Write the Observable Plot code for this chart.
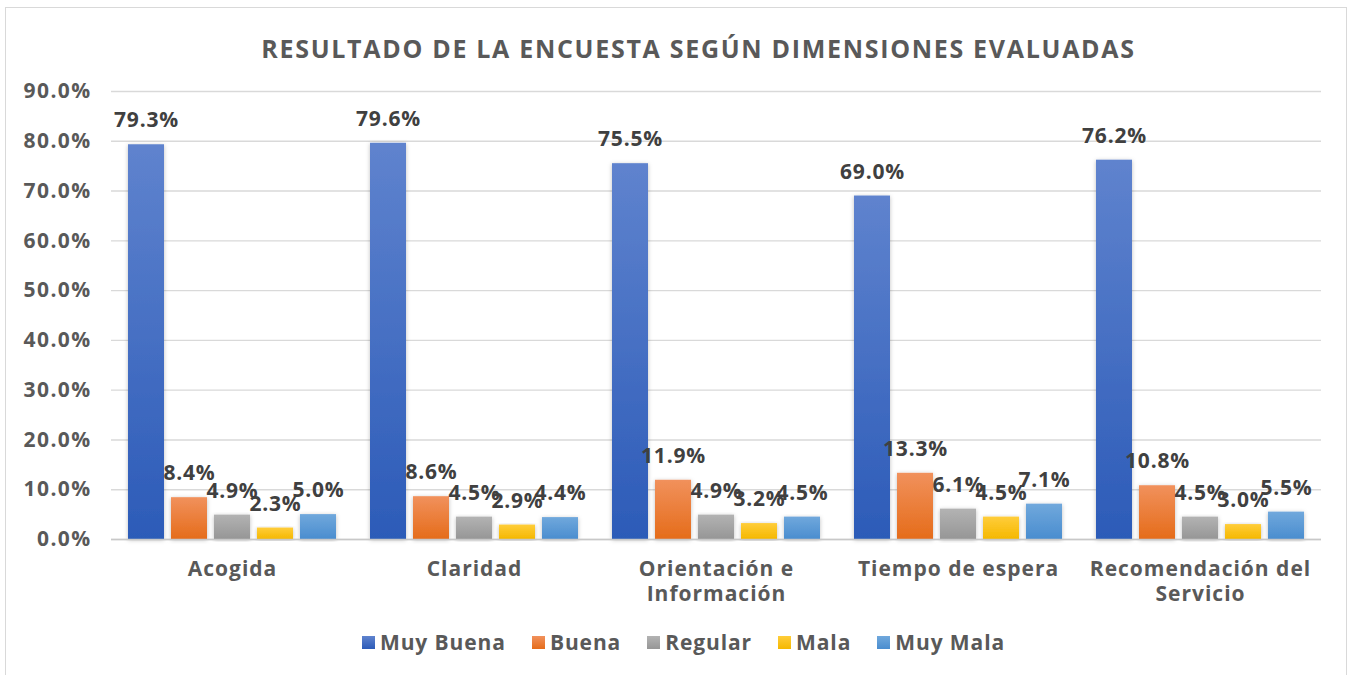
<!DOCTYPE html>
<html>
<head>
<meta charset="utf-8">
<script src="https://cdn.jsdelivr.net/npm/d3@7"></script>
<script src="https://cdn.jsdelivr.net/npm/@observablehq/plot@0.6"></script>
<style>
  body { margin: 0; background: #fff; }
  #page { position: relative; width: 1351px; height: 675px; overflow: hidden; font-family: "Open Sans", sans-serif; }
  #frame { position: absolute; left: 5px; top: 7px; width: 1342px; height: 700px; border: 1px solid #d9d9d9; box-sizing: border-box; }
  #title { position: absolute; left: 23px; top: 33px; width: 1351px; text-align: center; font-size: 25px; line-height: 30px; font-weight: 700; color: #595959; letter-spacing: 1.7px; }
  #chart { position: absolute; left: 0; top: 80px; }
  #legend { position: absolute; left: 0; top: 630px; width: 1351px; height: 24px; display: flex; justify-content: center; align-items: center; gap: 26px; padding-left: 16px; box-sizing: border-box; }
  .item { display: flex; align-items: center; gap: 5px; font-size: 21px; font-weight: 700; color: #595959; letter-spacing: 0.9px; }
  .sw { width: 13px; height: 13px; display: inline-block; }
  #chart g[aria-label="y-axis tick label"] text { letter-spacing: 1.4px; }
  #chart g[aria-label="fx-axis tick label"] text { letter-spacing: 1px; }
  #chart g[aria-label="text"] text { letter-spacing: 0.8px; }
</style>
</head>
<body>
<div id="page">
  <div id="frame"></div>
  <div id="title"></div>
  <div id="chart"></div>
  <div id="legend"></div>
</div>
<script>
const titleText = "RESULTADO DE LA ENCUESTA SEGÚN DIMENSIONES EVALUADAS";
const categories = ["Acogida", "Claridad", "Orientación e\nInformación", "Tiempo de espera", "Recomendación del\nServicio"];
const series = ["Muy Buena", "Buena", "Regular", "Mala", "Muy Mala"];
const muyBuena = [79.3, 79.6, 75.5, 69.0, 76.2];
const buena    = [8.4, 8.6, 11.9, 13.3, 10.8];
const regular  = [4.9, 4.5, 4.9, 6.1, 4.5];
const mala     = [2.3, 2.9, 3.2, 4.5, 3.0];
const muyMala  = [5.0, 4.4, 4.5, 7.1, 5.5];
const yTicks = [0, 10, 20, 30, 40, 50, 60, 70, 80, 90];

const seriesValues = [muyBuena, buena, regular, mala, muyMala];
const gradTop    = ["#5f83ce", "#f1915c", "#b3b3b3", "#ffcd3a", "#70a8dc"];
const gradBottom = ["#2c5bb8", "#e56c1a", "#969696", "#f5b800", "#4a8dcf"];

const data = [];
categories.forEach((c, i) => {
  series.forEach((s, j) => {
    data.push({cat: c, series: s, value: seriesValues[j][i]});
  });
});

document.getElementById("title").textContent = titleText;

const chart = Plot.plot({
  width: 1351,
  height: 535,
  marginLeft: 110,
  marginRight: 29,
  marginTop: 11,
  marginBottom: 76,
  style: {fontFamily: "'Open Sans', sans-serif", fontWeight: 700, background: "transparent", overflow: "visible"},
  fx: {domain: categories, padding: 0, label: null},
  x: {domain: series, paddingInner: 0.163, paddingOuter: 0.395, axis: null},
  y: {domain: [0, 90], label: null},
  color: {domain: series, range: series.map((s, j) => `url(#grad${j})`)},
  marks: [
    Plot.gridY(yTicks, {stroke: "#d9d9d9", strokeOpacity: 1, strokeWidth: 1.4}),
    Plot.barY(data, {fx: "cat", x: "series", y: "value", fill: "series"}),
    Plot.ruleY([0], {stroke: "#c8c8c8", strokeWidth: 1.6}),
    Plot.axisY({ticks: yTicks, tickFormat: d => d.toFixed(1) + "%", tickSize: 0, tickPadding: 20, fontSize: 21, color: "#595959", label: null}),
    Plot.axisFx({anchor: "bottom", tickSize: 0, tickPadding: 19, fontSize: 21, color: "#595959", label: null, lineHeight: 1.19}),
    Plot.text(data, {fx: "cat", x: "series", y: "value", text: d => d.value.toFixed(1) + "%", dy: -24, fontSize: 21, fill: "#404040", fontWeight: 700})
  ]
});

// gradients and shadow
const ns = "http://www.w3.org/2000/svg";
const defs = document.createElementNS(ns, "defs");
series.forEach((s, j) => {
  const g = document.createElementNS(ns, "linearGradient");
  g.setAttribute("id", `grad${j}`);
  g.setAttribute("x1", "0"); g.setAttribute("y1", "0");
  g.setAttribute("x2", "0"); g.setAttribute("y2", "1");
  const s1 = document.createElementNS(ns, "stop");
  s1.setAttribute("offset", "0"); s1.setAttribute("stop-color", gradTop[j]);
  const s2 = document.createElementNS(ns, "stop");
  s2.setAttribute("offset", "1"); s2.setAttribute("stop-color", gradBottom[j]);
  g.appendChild(s1); g.appendChild(s2);
  defs.appendChild(g);
});
const f = document.createElementNS(ns, "filter");
f.setAttribute("id", "shadow");
f.setAttribute("x", "-30%"); f.setAttribute("y", "-10%");
f.setAttribute("width", "160%"); f.setAttribute("height", "120%");
const ds = document.createElementNS(ns, "feDropShadow");
ds.setAttribute("dx", "0"); ds.setAttribute("dy", "1");
ds.setAttribute("stdDeviation", "2");
ds.setAttribute("flood-color", "#000"); ds.setAttribute("flood-opacity", "0.25");
f.appendChild(ds);
defs.appendChild(f);
chart.insertBefore(defs, chart.firstChild);
chart.querySelectorAll('g[aria-label="bar"] rect').forEach(r => r.setAttribute("filter", "url(#shadow)"));

document.getElementById("chart").appendChild(chart);

// legend
const legend = document.getElementById("legend");
series.forEach((s, j) => {
  const item = document.createElement("div");
  item.className = "item";
  const sw = document.createElement("span");
  sw.className = "sw";
  sw.style.background = `linear-gradient(${gradTop[j]}, ${gradBottom[j]})`;
  const t = document.createElement("span");
  t.textContent = s;
  item.appendChild(sw); item.appendChild(t);
  legend.appendChild(item);
});
</script>
</body>
</html>
